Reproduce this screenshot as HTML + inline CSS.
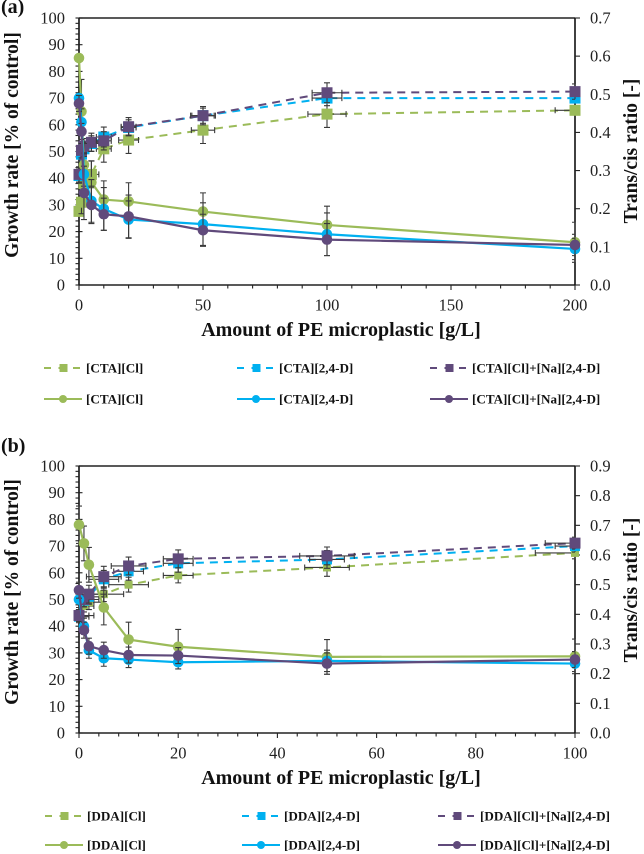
<!DOCTYPE html>
<html lang="en">
<head>
<meta charset="utf-8">
<title>Growth rate and trans/cis ratio vs PE microplastic</title>
<style>
html,body{margin:0;padding:0;background:#fff;width:644px;height:854px;overflow:hidden}
svg{display:block;filter:blur(0.35px)}
text{font-family:"Liberation Serif",serif;fill:#222}
.tick{font-size:16.5px}
.title{font-size:20px;font-weight:bold;fill:#111}
.title-y{font-size:19.5px;font-weight:bold;fill:#111}
.panel{font-size:20px;font-weight:bold;fill:#111}
.leg{font-size:13.1px;font-weight:bold;fill:#111}
</style>
</head>
<body>
<svg id="figure" width="644" height="854" viewBox="0 0 644 854" xmlns="http://www.w3.org/2000/svg"></svg>
<script>
// ---------- Panel (a) data ----------
const aDoses = [0, 1, 2, 5, 10, 20, 50, 100, 200];
const aXTicks = ["0", "50", "100", "150", "200"];
const aLeftTicks = ["0", "10", "20", "30", "40", "50", "60", "70", "80", "90", "100"];
const aRightTicks = ["0.0", "0.1", "0.2", "0.3", "0.4", "0.5", "0.6", "0.7"];
const aLegendNames = ["[CTA][Cl]", "[CTA][2,4-D]", "[CTA][Cl]+[Na][2,4-D]"];

const aGrowthGreen = [85, 65, 45, 38.5, 32, 31.3, 27.5, 22.5, 16];
const aGrowthBlue = [70, 61, 41.5, 31.5, 28.5, 24.5, 22.8, 19, 13.5];
const aGrowthPurple = [68, 57.5, 34.5, 30, 26.5, 25.7, 20.5, 17, 15];
const aGrowthGreenErr = [0, 12, 8, 8, 7, 7, 7, 7, 7.5];
const aGrowthBlueErr = [0, 5, 8, 8, 8, 7, 8, 8, 4];
const aGrowthPurpleErr = [3, 3, 10, 7, 6, 8, 6, 6, 4];

const aRatioGreen = [0.193, 0.217, 0.266, 0.29, 0.357, 0.38, 0.406, 0.448, 0.458];
const aRatioBlue = [0.287, 0.343, 0.357, 0.371, 0.388, 0.413, 0.444, 0.49, 0.49];
const aRatioPurple = [0.29, 0.353, 0.364, 0.374, 0.378, 0.415, 0.444, 0.504, 0.507];
const aRatioGreenErr = [0.01, 0.03, 0.03, 0.035, 0.035, 0.035, 0.035, 0.035, 0.005];
const aRatioBlueErr = [0.02, 0.02, 0.02, 0.02, 0.026, 0.02, 0.02, 0.02, 0.005];
const aRatioPurpleErr = [0.02, 0.02, 0.02, 0.024, 0.024, 0.024, 0.024, 0.026, 0.02];
const aDoseGreenErr = [1, 2, 3, 3, 3, 4, 4.7, 7.7, 8];
const aDoseBlueErr = [1, 2, 2, 3, 3, 3, 4.5, 6, 0];
const aDosePurpleErr = [1, 2, 2, 3, 3, 3, 5, 6, 0];

// ---------- Panel (b) data ----------
const bDoses = [0, 1, 2, 5, 10, 20, 50, 100];
const bXTicks = ["0", "20", "40", "60", "80", "100"];
const bLeftTicks = ["0", "10", "20", "30", "40", "50", "60", "70", "80", "90", "100"];
const bRightTicks = ["0.0", "0.1", "0.2", "0.3", "0.4", "0.5", "0.6", "0.7", "0.8", "0.9"];
const bLegendNames = ["[DDA][Cl]", "[DDA][2,4-D]", "[DDA][Cl]+[Na][2,4-D]"];

const bGrowthGreen = [78, 71, 63, 47, 35, 32.3, 28.5, 28.7];
const bGrowthBlue = [50, 40, 31, 28, 27.5, 26.5, 27, 26];
const bGrowthPurple = [53.5, 38.5, 32.5, 31, 29.2, 29, 26, 27.5];
const bGrowthGreenErr = [7, 6.5, 6.5, 6.5, 6.5, 6.5, 6.5, 6.5];
const bGrowthBlueErr = [3, 3, 3, 3, 3, 2.5, 4, 3];
const bGrowthPurpleErr = [3, 3, 3, 3, 3, 3, 4, 3];

const bRatioGreen = [0.396, 0.428, 0.441, 0.468, 0.5, 0.531, 0.558, 0.607];
const bRatioBlue = [0.392, 0.446, 0.459, 0.518, 0.545, 0.572, 0.585, 0.63];
const bRatioPurple = [0.396, 0.45, 0.468, 0.527, 0.563, 0.587, 0.597, 0.64];
const bRatioGreenErr = [0.02, 0.02, 0.025, 0.025, 0.025, 0.025, 0.03, 0.02];
const bRatioBlueErr = [0.02, 0.02, 0.025, 0.03, 0.03, 0.03, 0.03, 0.02];
const bRatioPurpleErr = [0.02, 0.025, 0.03, 0.035, 0.03, 0.03, 0.03, 0.02];
const bDoseGreenErr = [2, 2, 3, 4, 4, 3, 4.5, 8];
const bDoseBlueErr = [2, 2, 3, 3, 3, 3, 3.5, 4];
const bDosePurpleErr = [3, 3, 3.5, 3.5, 3.5, 3, 5.5, 6];

const svg = document.getElementById('figure');
const NS = 'http://www.w3.org/2000/svg';
const GREEN = '#9BBB59', BLUE = '#00B0F0', PURPLE = '#604A7B', DARK = '#222', ERR = '#3a3a3a';

function node(parent, tag, attrs, name) {
  const el = document.createElementNS(NS, tag);
  for (const k in attrs) el.setAttribute(k, attrs[k]);
  
  
  parent.appendChild(el);
  return el;
}
function label(parent, x, y, str, cls, anchor, name, rot) {
  const attrs = {x: x, y: y, class: cls, 'text-anchor': anchor};
  if (rot) attrs.transform = 'rotate(-90 ' + x + ' ' + y + ')';
  const t = node(parent, 'text', attrs, name);
  t.textContent = str;
  return t;
}

function drawPanel(cfg) {
  const g = node(svg, 'g', {}, cfg.id + '-panel');
  const L = 79, R = 575, T = cfg.top, B = cfg.bottom;
  const xMax = Number(cfg.xTicks[cfg.xTicks.length - 1]);
  const yMax = Number(cfg.leftTicks[cfg.leftTicks.length - 1]);
  const rMax = Number(cfg.rightTicks[cfg.rightTicks.length - 1]);
  const sx = v => L + (R - L) * v / xMax;
  const syL = v => B - (B - T) * v / yMax;
  const syR = v => B - (B - T) * v / rMax;
  const capR = x => Math.min(R, x + 3);

  label(g, 1, cfg.top - 5 + cfg.labelDy, cfg.letter, 'panel', 'start', cfg.id + '-panel-label');

  // axes
  node(g, 'line', {x1: L, y1: T, x2: R, y2: T, stroke: DARK, 'stroke-width': 1.4}, cfg.id + '-top-border');
  node(g, 'line', {x1: L, y1: B, x2: R, y2: B, stroke: DARK, 'stroke-width': 1.4}, cfg.id + '-x-axis');
  node(g, 'line', {x1: L, y1: T, x2: L, y2: B, stroke: '#111', 'stroke-width': 1.6}, cfg.id + '-left-axis');
  node(g, 'line', {x1: R, y1: T, x2: R, y2: B, stroke: '#111', 'stroke-width': 1.6}, cfg.id + '-right-axis');

  // x ticks
  const xStep = Number(cfg.xTicks[1]);
  for (let i = 0; i <= (cfg.xTicks.length - 1) * 5; i++) {
    const v = i * xStep / 5;
    const major = i % 5 === 0;
    node(g, 'line', {x1: sx(v), y1: B, x2: sx(v), y2: B + (major ? 5 : 3.5), stroke: DARK, 'stroke-width': 1.1}, cfg.id + '-x-tick');
  }
  cfg.xTicks.forEach(s => {
    label(g, sx(Number(s)), B + 25.5, s, 'tick', 'middle', cfg.id + '-x-tick-label');
  });
  // left ticks
  for (let i = 0; i <= 50; i++) {
    const v = i * 2;
    const major = i % 5 === 0;
    node(g, 'line', {x1: L - 3.5, y1: syL(v), x2: L + (major ? 3.5 : 0), y2: syL(v), stroke: DARK, 'stroke-width': 1.1}, cfg.id + '-left-tick');
  }
  cfg.leftTicks.forEach(s => {
    label(g, 65, syL(Number(s)) + 5.5, s, 'tick', 'end', cfg.id + '-left-tick-label');
  });
  // right ticks
  cfg.rightTicks.forEach(s => {
    const y = syR(Number(s));
    node(g, 'line', {x1: R, y1: y, x2: R + 5, y2: y, stroke: DARK, 'stroke-width': 1.1}, cfg.id + '-right-tick');
    label(g, R + 15, y + 5.5, s, 'tick', 'start', cfg.id + '-right-tick-label');
  });

  // axis titles
  label(g, 341, cfg.xTitleY, 'Amount of PE microplastic [g/L]', 'title', 'middle', cfg.id + '-x-axis-title');
  label(g, 18, cfg.leftTitleY, 'Growth rate [% of control]', 'title-y', 'middle', cfg.id + '-left-axis-title', true);
  label(g, 637, cfg.rightTitleY, 'Trans/cis ratio [-]', 'title-y', 'middle', cfg.id + '-right-axis-title', true);

  // dashed ratio series (squares)
  cfg.ratio.forEach(s => {
    const sg = node(g, 'g', {}, cfg.id + '-ratio-' + s.key);
    const pts = cfg.doses.map((d, i) => sx(d) + ',' + syR(s.values[i])).join(' ');
    node(sg, 'polyline', {points: pts, fill: 'none', stroke: s.color, 'stroke-width': 2, 'stroke-dasharray': '8 6'}, cfg.id + '-ratio-line-' + s.key);
    cfg.doses.forEach((d, i) => {
      const x = sx(d), y = syR(s.values[i]);
      const yErr = (B - T) * s.err[i] / rMax, xErr = (R - L) * s.xErr[i] / xMax;
      const x0 = Math.max(L, x - xErr), x1 = Math.min(R, x + xErr);
      const p = 'M' + x + ' ' + (y - yErr) + 'V' + (y + yErr) + 'M' + (x - 3) + ' ' + (y - yErr) + 'H' + capR(x) + 'M' + (x - 3) + ' ' + (y + yErr) + 'H' + capR(x) +
        'M' + x0 + ' ' + y + 'H' + x1 + 'M' + x0 + ' ' + (y - 3) + 'V' + (y + 3) + 'M' + x1 + ' ' + (y - 3) + 'V' + (y + 3);
      node(sg, 'path', {d: p, fill: 'none', stroke: ERR, 'stroke-width': 1.1}, cfg.id + '-ratio-error-' + s.key);
      node(sg, 'rect', {x: x - s.size / 2, y: y - s.size / 2, width: s.size, height: s.size, fill: s.color}, cfg.id + '-ratio-point-' + s.key);
    });
  });
  // solid growth series (circles)
  cfg.growth.forEach(s => {
    const sg = node(g, 'g', {}, cfg.id + '-growth-' + s.key);
    cfg.doses.forEach((d, i) => {
      const x = sx(d), y = syL(s.values[i]), e = (B - T) * s.err[i] / yMax;
      const p = 'M' + x + ' ' + (y - e) + 'V' + (y + e) + 'M' + (x - 3) + ' ' + (y - e) + 'H' + capR(x) + 'M' + (x - 3) + ' ' + (y + e) + 'H' + capR(x);
      node(sg, 'path', {d: p, fill: 'none', stroke: ERR, 'stroke-width': 1.1}, cfg.id + '-growth-error-' + s.key);
    });
    const pts = cfg.doses.map((d, i) => sx(d) + ',' + syL(s.values[i])).join(' ');
    node(sg, 'polyline', {points: pts, fill: 'none', stroke: s.color, 'stroke-width': 2.2}, cfg.id + '-growth-line-' + s.key);
    cfg.doses.forEach((d, i) => {
      node(sg, 'circle', {cx: sx(d), cy: syL(s.values[i]), r: 5.3, fill: s.color}, cfg.id + '-growth-point-' + s.key);
    });
  });

  // legend
  const colors = [GREEN, BLUE, PURPLE];
  cfg.legendNames.forEach((nm, i) => {
    const x0 = cfg.legendX[i];
    const e1 = node(g, 'g', {}, cfg.id + '-legend-ratio-' + i);
    node(e1, 'line', {x1: x0, y1: cfg.legendY[0], x2: x0 + 38, y2: cfg.legendY[0], stroke: colors[i], 'stroke-width': 2, 'stroke-dasharray': '7 7.5'}, cfg.id + '-legend-dash');
    node(e1, 'rect', {x: x0 + 15.5, y: cfg.legendY[0] - 4, width: 8, height: 8, fill: colors[i]}, cfg.id + '-legend-square');
    label(e1, x0 + 42, cfg.legendY[0] + 4.5, nm, 'leg', 'start', cfg.id + '-legend-label');
    const e2 = node(g, 'g', {}, cfg.id + '-legend-growth-' + i);
    node(e2, 'line', {x1: x0, y1: cfg.legendY[1], x2: x0 + 38, y2: cfg.legendY[1], stroke: colors[i], 'stroke-width': 2}, cfg.id + '-legend-line');
    node(e2, 'circle', {cx: x0 + 19, cy: cfg.legendY[1], r: 4, fill: colors[i]}, cfg.id + '-legend-circle');
    label(e2, x0 + 42, cfg.legendY[1] + 4.5, nm, 'leg', 'start', cfg.id + '-legend-label');
  });
}

drawPanel({
  id: 'panel-a', letter: '(a)', labelDy: 0, top: 18, bottom: 285,
  doses: aDoses, xTicks: aXTicks, leftTicks: aLeftTicks, rightTicks: aRightTicks, legendNames: aLegendNames,
  xTitleY: 336, leftTitleY: 145, rightTitleY: 151,
  legendX: [44, 237, 430], legendY: [368, 399],
  ratio: [
    {key: 'green', color: GREEN, size: 11, values: aRatioGreen, err: aRatioGreenErr, xErr: aDoseGreenErr},
    {key: 'blue', color: BLUE, size: 11, values: aRatioBlue, err: aRatioBlueErr, xErr: aDoseBlueErr},
    {key: 'purple', color: PURPLE, size: 11, values: aRatioPurple, err: aRatioPurpleErr, xErr: aDosePurpleErr}
  ],
  growth: [
    {key: 'green', color: GREEN, values: aGrowthGreen, err: aGrowthGreenErr},
    {key: 'blue', color: BLUE, values: aGrowthBlue, err: aGrowthBlueErr},
    {key: 'purple', color: PURPLE, values: aGrowthPurple, err: aGrowthPurpleErr}
  ]
});
drawPanel({
  id: 'panel-b', letter: '(b)', labelDy: -9, top: 466, bottom: 733,
  doses: bDoses, xTicks: bXTicks, leftTicks: bLeftTicks, rightTicks: bRightTicks, legendNames: bLegendNames,
  xTitleY: 784, leftTitleY: 592, rightTitleY: 590,
  legendX: [45, 242, 438], legendY: [816, 845],
  ratio: [
    {key: 'green', color: GREEN, size: 8, values: bRatioGreen, err: bRatioGreenErr, xErr: bDoseGreenErr},
    {key: 'blue', color: BLUE, size: 10, values: bRatioBlue, err: bRatioBlueErr, xErr: bDoseBlueErr},
    {key: 'purple', color: PURPLE, size: 11, values: bRatioPurple, err: bRatioPurpleErr, xErr: bDosePurpleErr}
  ],
  growth: [
    {key: 'green', color: GREEN, values: bGrowthGreen, err: bGrowthGreenErr},
    {key: 'blue', color: BLUE, values: bGrowthBlue, err: bGrowthBlueErr},
    {key: 'purple', color: PURPLE, values: bGrowthPurple, err: bGrowthPurpleErr}
  ]
});
</script>
</body>
</html>
